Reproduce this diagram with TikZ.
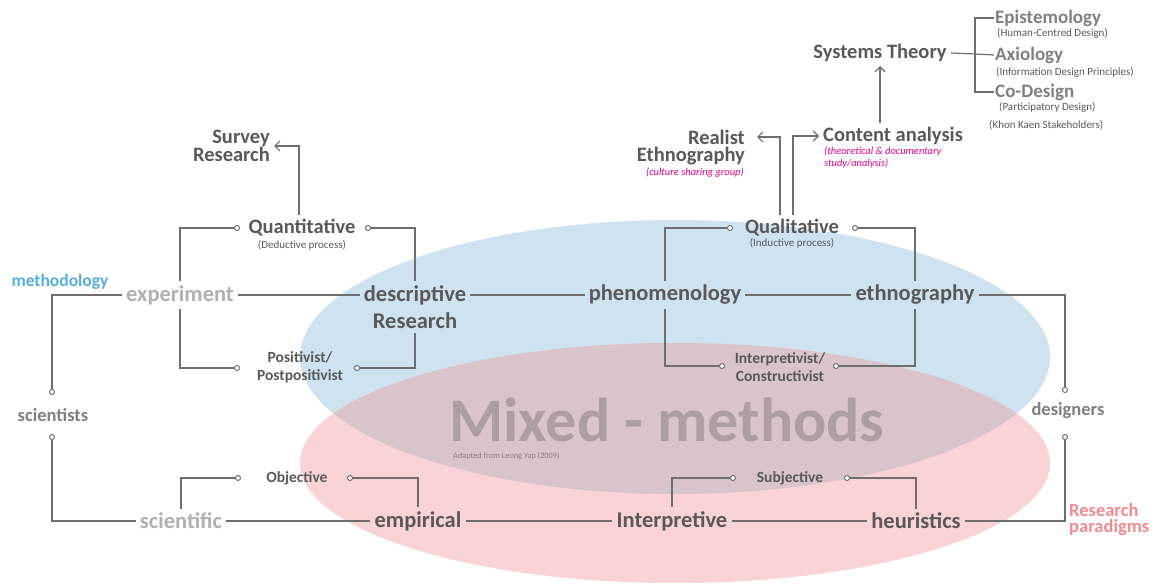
\documentclass[tikz,border=0pt]{standalone}
\usepackage{fontspec}
\setmainfont{Carlito}
\usetikzlibrary{arrows.meta}
\definecolor{dk}{HTML}{595959}
\definecolor{md}{HTML}{808080}
\definecolor{lt}{HTML}{B0B0B0}
\definecolor{ln}{HTML}{6E6E6E}
\definecolor{blu}{HTML}{CFE2F0}
\definecolor{pnk}{HTML}{F9D3D5}
\definecolor{ovl}{HTML}{D9C4CB}
\definecolor{mag}{HTML}{EC008C}
\definecolor{mblue}{HTML}{55AEE3}
\definecolor{rpink}{HTML}{F28B8E}
\definecolor{mix}{HTML}{AC9EA4}
\begin{document}
\begin{tikzpicture}[x=1pt,y=-1pt,
  big/.style={font=\fontsize{22.5}{25}\selectfont\bfseries, text=dk, inner sep=4pt},
  mid/.style={font=\fontsize{20.5}{22}\selectfont\bfseries, text=dk, inner sep=4pt},
  sml/.style={font=\fontsize{15.5}{18}\selectfont\bfseries, text=dk, inner sep=4pt, align=center},
  tiny/.style={font=\fontsize{11}{12}\selectfont, text=dk, inner sep=1pt},
  mgt/.style={font=\fontsize{10.5}{11.5}\selectfont\itshape, text=mag, inner sep=1pt},
  dot/.style={circle, draw=ln, line width=1pt, fill=white, inner sep=0pt, minimum size=5pt},
  con/.style={draw=ln, line width=1.2pt},
  arr/.style={con, -{Straight Barb[length=5pt,width=10pt]}}]
\useasboundingbox (0,0) rectangle (1163,586);
% ellipses
\fill[blu] (675,357) ellipse [x radius=375, y radius=137];
\fill[pnk] (675,463) ellipse [x radius=375, y radius=120];
\begin{scope}
  \clip (675,357) ellipse [x radius=375, y radius=137];
  \fill[ovl] (675,463) ellipse [x radius=375, y radius=120];
\end{scope}
\node[font=\fontsize{62}{66}\selectfont\bfseries, text=mix, inner sep=0pt] (mix) at (667,420) {Mixed - methods};
\node[font=\fontsize{8.3}{9}\selectfont, text=mix!80!black, anchor=west, inner sep=0pt] (adapt) at (453,456) {Adapted from Leong Yap (2009)};
% row 1 nodes
\node[big, text=lt] (exp) at (180,295) {experiment};
\node[big] (desc) at (415,295) {descriptive};
\node[big] (descR) at (415,321) {Research};
\node[big] (phen) at (665,295) {phenomenology};
\node[big] (ethn) at (915,295) {ethnography};
\node[mid] (quant) at (302,228) {Quantitative};
\node[tiny] (quants) at (302,245) {(Deductive process)};
\node[mid] (qual) at (792,228) {Qualitative};
\node[tiny] (quals) at (792,243) {(Inductive process)};
\node[sml] (pos) at (300,367) {Positivist/\\Postpositivist};
\node[sml] (interp) at (780,367) {Interpretivist/\\Constructivist};
\node[mid, anchor=east, align=right, font=\fontsize{20.5}{18}\selectfont\bfseries] (survey) at (274,146) {Survey\\Research};
\node[mid, anchor=east, inner sep=0pt] (realist) at (745,137) {Realist};
\node[mid, anchor=east, inner sep=0pt] (ethno) at (745,156) {Ethnography};
\node[mgt, anchor=east] (culture) at (745,173) {(culture sharing group)};
\node[mid, anchor=west] (content) at (819,136) {Content analysis};
\node[mgt, anchor=north west, align=left] (theo) at (823,146) {(theoretical \& documentary\\study/analysis)};
\node[mid] (systems) at (880,53) {Systems Theory};
\node[mid, text=md, anchor=west, inner sep=1pt, font=\fontsize{19}{20}\selectfont\bfseries] (epi) at (994,18) {Epistemology};
\node[tiny, anchor=west] (epis) at (996,33) {(Human-Centred Design)};
\node[mid, text=md, anchor=west, inner sep=1pt, font=\fontsize{19}{20}\selectfont\bfseries] (axi) at (994,55) {Axiology};
\node[tiny, anchor=west] (axis) at (995,72) {(Information Design Principles)};
\node[mid, text=md, anchor=west, inner sep=1pt, font=\fontsize{19}{20}\selectfont\bfseries] (codes) at (994,92) {Co-Design};
\node[tiny, anchor=west] (codess) at (998,107) {(Participatory Design)};
\node[tiny, anchor=west] (khon) at (988,125) {(Khon Kaen Stakeholders)};
\node[font=\fontsize{17.5}{19}\selectfont\bfseries, text=mblue] (meth) at (60,282) {methodology};
\node[font=\fontsize{18.5}{20}\selectfont\bfseries, text=md] (sci) at (53,415) {scientists};
\node[font=\fontsize{18.5}{16}\selectfont\bfseries, text=rpink, anchor=west, align=left, inner sep=0pt] (rp) at (1069,520) {Research\\paradigms};
\node[font=\fontsize{18.5}{20}\selectfont\bfseries, text=md] (des) at (1068,411) {designers};
% row 2 nodes
\node[big, text=lt] (scif) at (181,521) {scientific};
\node[big] (emp) at (418,521) {empirical};
\node[big] (intp) at (672,521) {Interpretive};
\node[big] (heur) at (916,521) {heuristics};
\node[sml] (obj) at (297,478) {Objective};
\node[sml] (subj) at (790,478) {Subjective};
% dots
\node[dot] (qL) at (237,228) {};
\node[dot] (qR) at (368,228) {};
\node[dot] (pL) at (237,368) {};
\node[dot] (pR) at (357,368) {};
\node[dot] (lL) at (730,228) {};
\node[dot] (lR) at (855,228) {};
\node[dot] (iL) at (722,366) {};
\node[dot] (iR) at (836,366) {};
\node[dot] (s1) at (52,392) {};
\node[dot] (s2) at (52,437) {};
\node[dot] (d1) at (1065,390) {};
\node[dot] (d2) at (1065,437) {};
\node[dot] (oL) at (238,478) {};
\node[dot] (oR) at (350,478) {};
\node[dot] (sL) at (733,478) {};
\node[dot] (sR) at (847,478) {};
\coordinate (bx) at (975,54);
% connectors
\draw[con] (qL.west) -| (exp.north);
\draw[con] (pL.west) -| (exp.south);
\draw[con] (qR.east) -| (desc.north);
\draw[con] (pR.east) -| (descR.south);
\draw[con] (lL.west) -| (phen.north);
\draw[con] (iL.west) -| (phen.south);
\draw[con] (lR.east) -| (ethn.north);
\draw[con] (iR.east) -| (ethn.south);
\draw[con] (exp.east) -- (desc.west);
\draw[con] (desc.east) -- (phen.west);
\draw[con] (phen.east) -- (ethn.west);
\draw[con] (ethn.east) -| (d1.north);
\draw[con] (exp.west) -| (s1.north);
\draw[con] (s2.south) |- (scif.west);
\draw[con] (scif.east) -- (emp.west);
\draw[con] (emp.east) -- (intp.west);
\draw[con] (intp.east) -- (heur.west);
\draw[con] (heur.east) -| (d2.south);
\draw[con] (oL.west) -| (scif.north);
\draw[con] (oR.east) -| (emp.north);
\draw[con] (sL.west) -| (intp.north);
\draw[con] (sR.east) -| (heur.north);
\draw[arr] ([xshift=-3pt]quant.north) |- (survey.east);
\draw[arr, shorten >=12pt] ([xshift=-12pt]qual.north) |- (realist.east);
\draw[arr] ([xshift=1pt]qual.north) |- (content.west);
\draw[arr] (content.north -| systems.south) -- (systems.south);
\draw[con] (systems.east) -- (bx);
\draw[con] (epi.west) -| (bx) |- (codes.west);
\draw[con] (bx) -- (axi.west);
\end{tikzpicture}
\end{document}
